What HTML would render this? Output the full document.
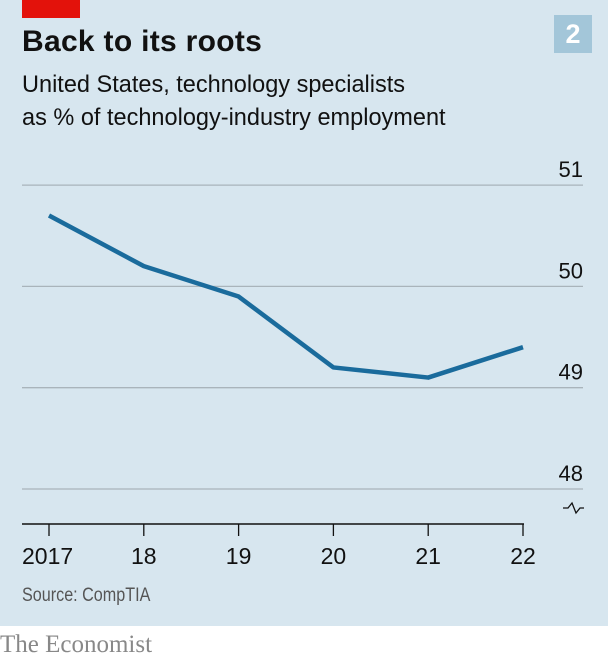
<!DOCTYPE html>
<html><head><meta charset="utf-8"><style>
body{margin:0;width:608px;height:662px;background:#fff;overflow:hidden;font-family:"Liberation Sans",sans-serif}
#panel{position:absolute;left:0;top:0;width:608px;height:626px;background:#d7e6ef}
.t{position:absolute;white-space:nowrap}
</style></head><body>
<div id="panel"></div>
<div class="t" style="left:22px;top:0;width:58px;height:18px;background:#e3120b"></div>
<div class="t" style="left:554px;top:15px;width:38px;height:38px;background:#a3c6d9;color:#fff;font-weight:bold;font-size:27px;text-align:center;line-height:38px">2</div>
<div class="t" style="left:22px;top:25px;font-size:30px;font-weight:bold;color:#111;letter-spacing:0.3px">Back to its roots</div>
<div class="t" style="left:22px;top:68px;font-size:24.5px;line-height:33px;color:#111;transform:scaleX(0.96);transform-origin:left">United States, technology specialists<br>as % of technology-industry employment</div>
<svg id="c" width="608" height="662" style="position:absolute;left:0;top:0"></svg>
<div class="t" style="left:22px;top:585px;font-size:19px;color:#555;transform:scaleX(0.85);transform-origin:left">Source: CompTIA</div>
<div class="t" style="left:0;top:631px;font-family:'Liberation Serif',serif;font-size:25px;color:#888">The Economist</div>
<script>
const categories=["2017","18","19","20","21","22"];
const values=[50.7,50.2,49.9,49.2,49.1,49.4];
const yTicks=[48,49,50,51];
const NS="http://www.w3.org/2000/svg";
const svg=document.getElementById('c');
const x=i=>49+i*(523-49)/(categories.length-1);
const y=v=>489-(v-48)*101.3;
function mk(t,a){const e=document.createElementNS(NS,t);for(const k in a)e.setAttribute(k,a[k]);svg.appendChild(e);return e;}
yTicks.forEach(v=>{
 const l=mk('line',{x1:22,x2:583,y1:y(v),y2:y(v),stroke:'#a9b4bb','stroke-width':1.3});
 
 
 const t=mk('text',{x:583,y:y(v)-8,'text-anchor':'end','font-size':22,fill:'#111','font-family':'Liberation Sans, sans-serif'});
 t.textContent=v;
 
 
});
const br=mk('path',{d:'M563 508 h5 l4 -5 l4 10 l4 -5 h4',fill:'none',stroke:'#111','stroke-width':1.3});


const ax=mk('line',{x1:22,x2:524,y1:524,y2:524,stroke:'#111','stroke-width':1.5});


categories.forEach((c,i)=>{
 const tk=mk('line',{x1:x(i),x2:x(i),y1:524,y2:536,stroke:'#111','stroke-width':1.3});
 
 
 const t=mk('text',{x:i==0?22:x(i),y:564,'text-anchor':i==0?'start':'middle','font-size':23,fill:'#111','font-family':'Liberation Sans, sans-serif'});
 t.textContent=c;
 
 
});
const p=mk('polyline',{points:values.map((v,i)=>x(i)+','+y(v)).join(' '),fill:'none',stroke:'#1a6b9c','stroke-width':4.5,'stroke-linejoin':'round'});


</script>
</body></html>
